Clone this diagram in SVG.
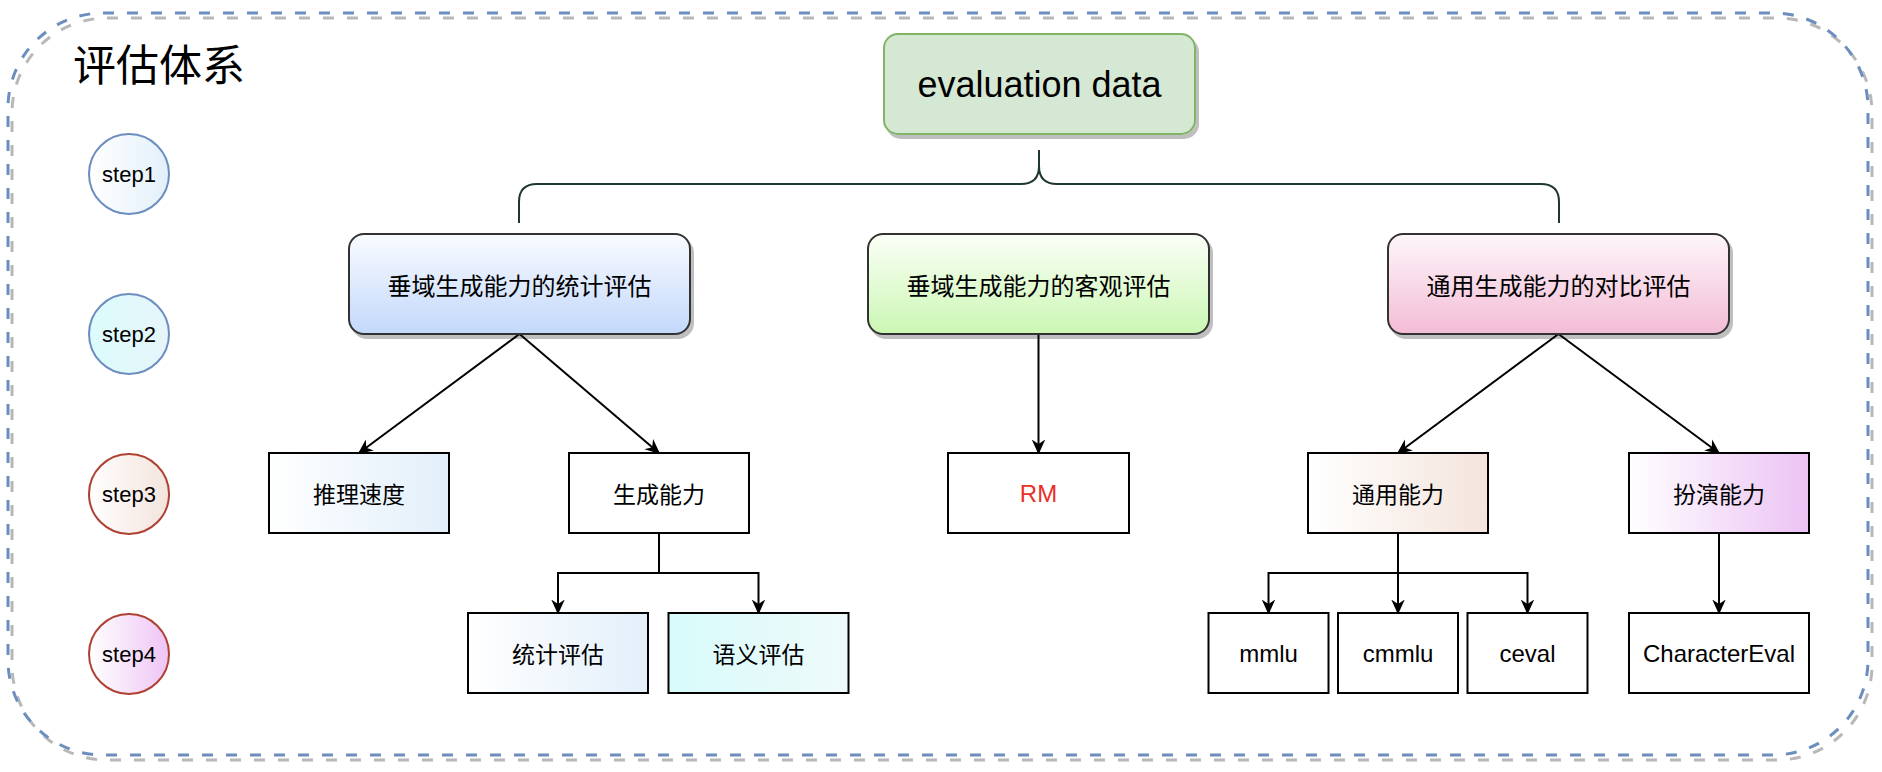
<svg xmlns="http://www.w3.org/2000/svg" width="1882" height="772" viewBox="0 0 1882 772">
  <defs>
    <filter id="shadow" x="-10%" y="-10%" width="125%" height="130%">
      <feOffset in="SourceAlpha" dx="3" dy="4" result="o"/>
      <feFlood flood-color="#000" flood-opacity="0.25"/>
      <feComposite in2="o" operator="in" result="s"/>
      <feMerge><feMergeNode in="s"/><feMergeNode in="SourceGraphic"/></feMerge>
    </filter>
    <filter id="outerShadow" x="-2%" y="-2%" width="104%" height="106%">
      <feOffset in="SourceAlpha" dx="4" dy="5" result="o"/>
      <feFlood flood-color="#000" flood-opacity="0.28"/>
      <feComposite in2="o" operator="in" result="s"/>
      <feMerge><feMergeNode in="s"/><feMergeNode in="SourceGraphic"/></feMerge>
    </filter>
    <linearGradient id="gStep1" x1="0" y1="0" x2="1" y2="0"><stop offset="0" stop-color="#ffffff"/><stop offset="1" stop-color="#e2f0fa"/></linearGradient>
    <linearGradient id="gStep2" x1="0" y1="0" x2="1" y2="0"><stop offset="0" stop-color="#dcfcfc"/><stop offset="1" stop-color="#e6f5fb"/></linearGradient>
    <linearGradient id="gStep3" x1="0" y1="0" x2="1" y2="0"><stop offset="0" stop-color="#ffffff"/><stop offset="1" stop-color="#f3e3dc"/></linearGradient>
    <linearGradient id="gStep4" x1="0" y1="0" x2="1" y2="0"><stop offset="0" stop-color="#ffffff"/><stop offset="1" stop-color="#eec4f5"/></linearGradient>
    <linearGradient id="gBlueV" x1="0" y1="0" x2="0" y2="1"><stop offset="0" stop-color="#f9fbff"/><stop offset="1" stop-color="#c3d8fb"/></linearGradient>
    <linearGradient id="gGreenV" x1="0" y1="0" x2="0" y2="1"><stop offset="0" stop-color="#fbfff7"/><stop offset="1" stop-color="#cbf7b3"/></linearGradient>
    <linearGradient id="gPinkV" x1="0" y1="0" x2="0" y2="1"><stop offset="0" stop-color="#fdf6fa"/><stop offset="1" stop-color="#f3bcd6"/></linearGradient>
    <linearGradient id="gBlueH" x1="0" y1="0" x2="1" y2="0"><stop offset="0" stop-color="#ffffff"/><stop offset="1" stop-color="#e2effa"/></linearGradient>
    <linearGradient id="gCyanH" x1="0" y1="0" x2="1" y2="0"><stop offset="0" stop-color="#d8fbfb"/><stop offset="1" stop-color="#eefaf9"/></linearGradient>
    <linearGradient id="gPeachH" x1="0" y1="0" x2="1" y2="0"><stop offset="0" stop-color="#ffffff"/><stop offset="1" stop-color="#f4e4dc"/></linearGradient>
    <linearGradient id="gPurpleH" x1="0" y1="0" x2="1" y2="0"><stop offset="0" stop-color="#ffffff"/><stop offset="1" stop-color="#ecc3f4"/></linearGradient>
    <marker id="arrow" viewBox="0 0 10 10" refX="9" refY="5" markerWidth="15" markerHeight="15" markerUnits="userSpaceOnUse" orient="auto">
      <path d="M0,0.5 L10,5 L0,9.5 L3,5 Z" fill="#000"/>
    </marker>
    <style>
      .cjk { font-family: "Noto Sans CJK SC", "Noto Sans", sans-serif; fill: #000; }
      .lat { font-family: "Liberation Sans", Arial, sans-serif; fill: #000; }
      .t2 { font-size: 24px; }
      .t3 { font-size: 23px; }
      .lt { font-size: 24px; }
      .step { font-size: 22px; }
      .lvl2 { stroke: #333333; stroke-width: 2; }
      .box { stroke: #000; stroke-width: 2; }
      .conn { fill: none; stroke: #000; stroke-width: 2; }
    </style>
  </defs>
  <rect width="1882" height="772" fill="#ffffff"/>

  <g id="container">
    <rect x="8" y="13" width="1860" height="742" rx="95" ry="95" fill="none" stroke="#6c8ebf" stroke-width="3" stroke-dasharray="11 13" filter="url(#outerShadow)"/>
    <text x="73" y="62" class="cjk" font-size="43" dominant-baseline="central">评估体系</text>
  </g>

  <g id="step1"><circle cx="129" cy="174" r="40" fill="url(#gStep1)" stroke="#6c8ebf" stroke-width="2"/><text x="129" y="174" class="lat step" text-anchor="middle" dominant-baseline="central">step1</text></g>
  <g id="step2"><circle cx="129" cy="334" r="40" fill="url(#gStep2)" stroke="#6c8ebf" stroke-width="2"/><text x="129" y="334" class="lat step" text-anchor="middle" dominant-baseline="central">step2</text></g>
  <g id="step3"><circle cx="129" cy="494" r="40" fill="url(#gStep3)" stroke="#ae4132" stroke-width="2"/><text x="129" y="494" class="lat step" text-anchor="middle" dominant-baseline="central">step3</text></g>
  <g id="step4"><circle cx="129" cy="654" r="40" fill="url(#gStep4)" stroke="#ae4132" stroke-width="2"/><text x="129" y="654" class="lat step" text-anchor="middle" dominant-baseline="central">step4</text></g>

  <g id="connectors">
    <path d="M519,223 V202 Q519,184 537,184 H1021 Q1039,184 1039,166 V150 M1039,166 Q1039,184 1057,184 H1541 Q1559,184 1559,202 V223" fill="none" stroke="#1f3a2d" stroke-width="2"/>
    <path class="conn" d="M519.5,334 L359,453" marker-end="url(#arrow)"/>
    <path class="conn" d="M519.5,334 L659,453" marker-end="url(#arrow)"/>
    <path class="conn" d="M1038.5,334 V453" marker-end="url(#arrow)"/>
    <path class="conn" d="M1558.5,334 L1398,453" marker-end="url(#arrow)"/>
    <path class="conn" d="M1558.5,334 L1719,453" marker-end="url(#arrow)"/>
    <path class="conn" d="M659,533 V573 H558 V613" marker-end="url(#arrow)"/>
    <path class="conn" d="M659,573 H758.5 V613" marker-end="url(#arrow)"/>
    <path class="conn" d="M1398,533 V613" marker-end="url(#arrow)"/>
    <path class="conn" d="M1398,573 H1268.5 V613" marker-end="url(#arrow)"/>
    <path class="conn" d="M1398,573 H1527.5 V613" marker-end="url(#arrow)"/>
    <path class="conn" d="M1719,533 V613" marker-end="url(#arrow)"/>
  </g>

  <g id="evaluation-data">
    <rect x="884" y="34" width="311" height="100" rx="14" fill="#d5e8d4" stroke="#82b366" stroke-width="2" filter="url(#shadow)"/>
    <text x="1039.5" y="84" class="lat" font-size="36" text-anchor="middle" dominant-baseline="central">evaluation data</text>
  </g>

  <g id="stat-eval">
    <rect x="349" y="234" width="341" height="100" rx="15" fill="url(#gBlueV)" class="lvl2" filter="url(#shadow)"/>
    <text x="519.5" y="284" class="cjk t2" text-anchor="middle" dominant-baseline="central">垂域生成能力的统计评估</text>
  </g>
  <g id="obj-eval">
    <rect x="868" y="234" width="341" height="100" rx="15" fill="url(#gGreenV)" class="lvl2" filter="url(#shadow)"/>
    <text x="1038.5" y="284" class="cjk t2" text-anchor="middle" dominant-baseline="central">垂域生成能力的客观评估</text>
  </g>
  <g id="cmp-eval">
    <rect x="1388" y="234" width="341" height="100" rx="15" fill="url(#gPinkV)" class="lvl2" filter="url(#shadow)"/>
    <text x="1558.5" y="284" class="cjk t2" text-anchor="middle" dominant-baseline="central">通用生成能力的对比评估</text>
  </g>

  <g id="infer-speed">
    <rect x="269" y="453" width="180" height="80" fill="url(#gBlueH)" class="box"/>
    <text x="359" y="493" class="cjk t3" text-anchor="middle" dominant-baseline="central">推理速度</text>
  </g>
  <g id="gen-ability">
    <rect x="569" y="453" width="180" height="80" fill="#ffffff" class="box"/>
    <text x="659" y="493" class="cjk t3" text-anchor="middle" dominant-baseline="central">生成能力</text>
  </g>
  <g id="rm">
    <rect x="948" y="453" width="181" height="80" fill="#ffffff" class="box"/>
    <text x="1038.5" y="493" class="lat lt" style="fill:#e8302a" text-anchor="middle" dominant-baseline="central">RM</text>
  </g>
  <g id="general-ability">
    <rect x="1308" y="453" width="180" height="80" fill="url(#gPeachH)" class="box"/>
    <text x="1398" y="493" class="cjk t3" text-anchor="middle" dominant-baseline="central">通用能力</text>
  </g>
  <g id="roleplay-ability">
    <rect x="1629" y="453" width="180" height="80" fill="url(#gPurpleH)" class="box"/>
    <text x="1719" y="493" class="cjk t3" text-anchor="middle" dominant-baseline="central">扮演能力</text>
  </g>

  <g id="stat-assess">
    <rect x="468" y="613" width="180" height="80" fill="url(#gBlueH)" class="box"/>
    <text x="558" y="653" class="cjk t3" text-anchor="middle" dominant-baseline="central">统计评估</text>
  </g>
  <g id="semantic-assess">
    <rect x="668.5" y="613" width="180" height="80" fill="url(#gCyanH)" class="box"/>
    <text x="758.5" y="653" class="cjk t3" text-anchor="middle" dominant-baseline="central">语义评估</text>
  </g>
  <g id="mmlu">
    <rect x="1208.5" y="613" width="120" height="80" fill="#ffffff" class="box"/>
    <text x="1268.5" y="653" class="lat lt" text-anchor="middle" dominant-baseline="central">mmlu</text>
  </g>
  <g id="cmmlu">
    <rect x="1338" y="613" width="120" height="80" fill="#ffffff" class="box"/>
    <text x="1398" y="653" class="lat lt" text-anchor="middle" dominant-baseline="central">cmmlu</text>
  </g>
  <g id="ceval">
    <rect x="1467.5" y="613" width="120" height="80" fill="#ffffff" class="box"/>
    <text x="1527.5" y="653" class="lat lt" text-anchor="middle" dominant-baseline="central">ceval</text>
  </g>
  <g id="character-eval">
    <rect x="1629" y="613" width="180" height="80" fill="#ffffff" class="box"/>
    <text x="1719" y="653" class="lat lt" text-anchor="middle" dominant-baseline="central">CharacterEval</text>
  </g>
</svg>
